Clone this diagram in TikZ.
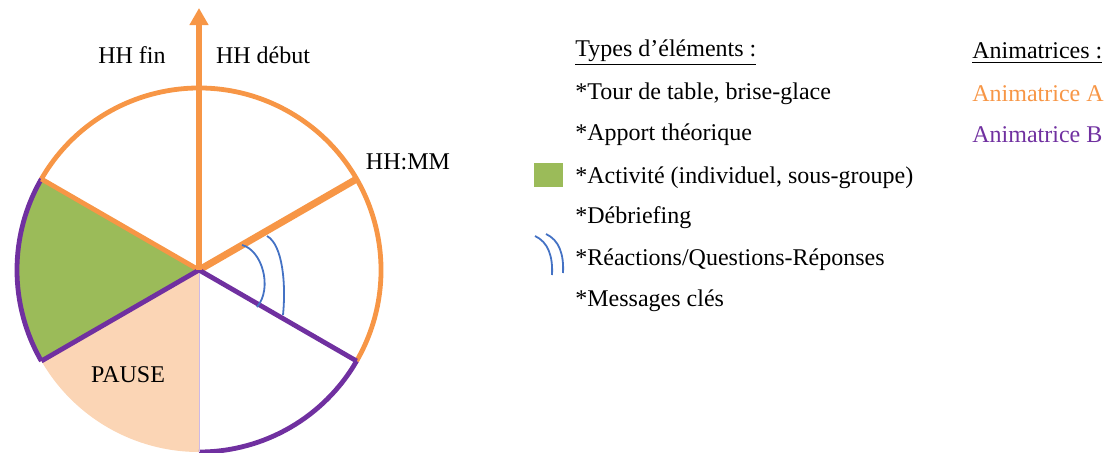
\documentclass[tikz,border=0pt]{standalone}
\usepackage{fontspec}
\setmainfont{Liberation Serif}
\usepackage{tikz}
\usetikzlibrary{positioning,calc,arrows.meta}
\definecolor{AnimA}{RGB}{247,150,70}
\definecolor{AnimB}{RGB}{112,48,160}
\definecolor{ActGreen}{RGB}{155,187,89}
\definecolor{PausePeach}{RGB}{251,213,181}
\definecolor{QRBlue}{RGB}{68,114,196}
\definecolor{ThinLilac}{RGB}{204,185,230}

\begin{document}
\begin{tikzpicture}[x=0.5pt, y=0.5pt,
					font=\fontsize{12}{14}\selectfont
					]
					\tikzset{
						lbl/.style={inner sep=0pt, text=black},
						legtxt/.style={lbl, anchor=west},
						rimA/.style={draw=AnimA, line width=2.4pt},
						rimB/.style={draw=AnimB, line width=2.4pt},
						rayA/.style={draw=AnimA, line width=2.4pt},
						rayB/.style={draw=AnimB, line width=2.4pt},
						qrarc/.style={draw=QRBlue, line width=0.9pt}
					}
					\useasboundingbox (0,0) rectangle (1113,452);
					\def\rad{182}
					
					% cadran
					\coordinate (c) at (199,182);
					\foreach \a in {30,90,150,210,270,330}
						\coordinate (r\a) at ($(c)+(\a:\rad)$);
					\coordinate (tip) at (199,444);
					
					\fill[ActGreen] (c) -- (r150) arc[start angle=150, end angle=210, radius=\rad] -- cycle;
					\fill[PausePeach] (c) -- (r210) arc[start angle=210, end angle=270, radius=\rad] -- cycle;
					
					\draw[rimA] (r330) arc[start angle=-30, end angle=150, radius=\rad];
					\draw[rimB] (r150) arc[start angle=150, end angle=210, radius=\rad];
					\draw[rimB] (r270) arc[start angle=270, end angle=330, radius=\rad];
					
					\draw[draw=ThinLilac, line width=0.5pt] (c) -- (r270);
					\draw[rayA, line width=3.5pt] (c) -- (r30);
					\draw[rayA] (c) -- (r150);
					\draw[rayB] (c) -- (r210);
					\draw[rayB] (c) -- (r330);
					\draw[rayA, line width=2.6pt, -{Triangle[width=9pt,length=8.5pt]}] (c) -- (tip);
					
					% questions-reponses
					\coordinate (qa1) at (242,207);
					\coordinate (qb1) at (257,145);
					\coordinate (qa2) at (267,216);
					\coordinate (qb2) at (283,137);
					\draw[qrarc] (qa1) .. controls (262,202) and (273,164) .. (qb1);
					\draw[qrarc] (qa2) .. controls (283,207) and (286,167) .. (qb2);
					
					\node[lbl] (hhfin) at (132,397) {HH fin};
					\node[lbl] (hhdebut) at (263,397) {HH début};
					\node[lbl] (hhmm) at (408,290) {HH:MM};
					\node[lbl] (pause) at (128,77) {PAUSE};
					
					% legende types
					\node[legtxt] (types) at (575,399) {\underline{Types d’éléments :}};
					\node[legtxt] (tour) at (575,358) {*Tour de table, brise-glace};
					\node[legtxt] (apport) at (575,317) {*Apport théorique};
					\node[legtxt] (activite) at (575,274) {*Activité (individuel, sous-groupe)};
					\node[legtxt] (debrief) at (575,234) {*Débriefing};
					\node[legtxt] (reactions) at (575,192) {*Réactions/Questions-Réponses};
					\node[legtxt] (messages) at (575,151) {*Messages clés};
					
					\fill[ActGreen] (534,265) rectangle (563,289);
					\coordinate (la1) at (535,216);
					\coordinate (lb1) at (552,177);
					\coordinate (la2) at (546,218);
					\coordinate (lb2) at (563,179);
					\draw[qrarc] (la1) .. controls (548,210) and (553,196) .. (lb1);
					\draw[qrarc] (la2) .. controls (559,212) and (564,198) .. (lb2);
					
					% legende animatrices
					\node[legtxt] (anims) at (972,399) {\underline{Animatrices :}};
					\node[legtxt, text=AnimA] (animA) at (972,358) {Animatrice A};
					\node[legtxt, text=AnimB] (animB) at (972,317) {Animatrice B};
				\end{tikzpicture}
\end{document}
